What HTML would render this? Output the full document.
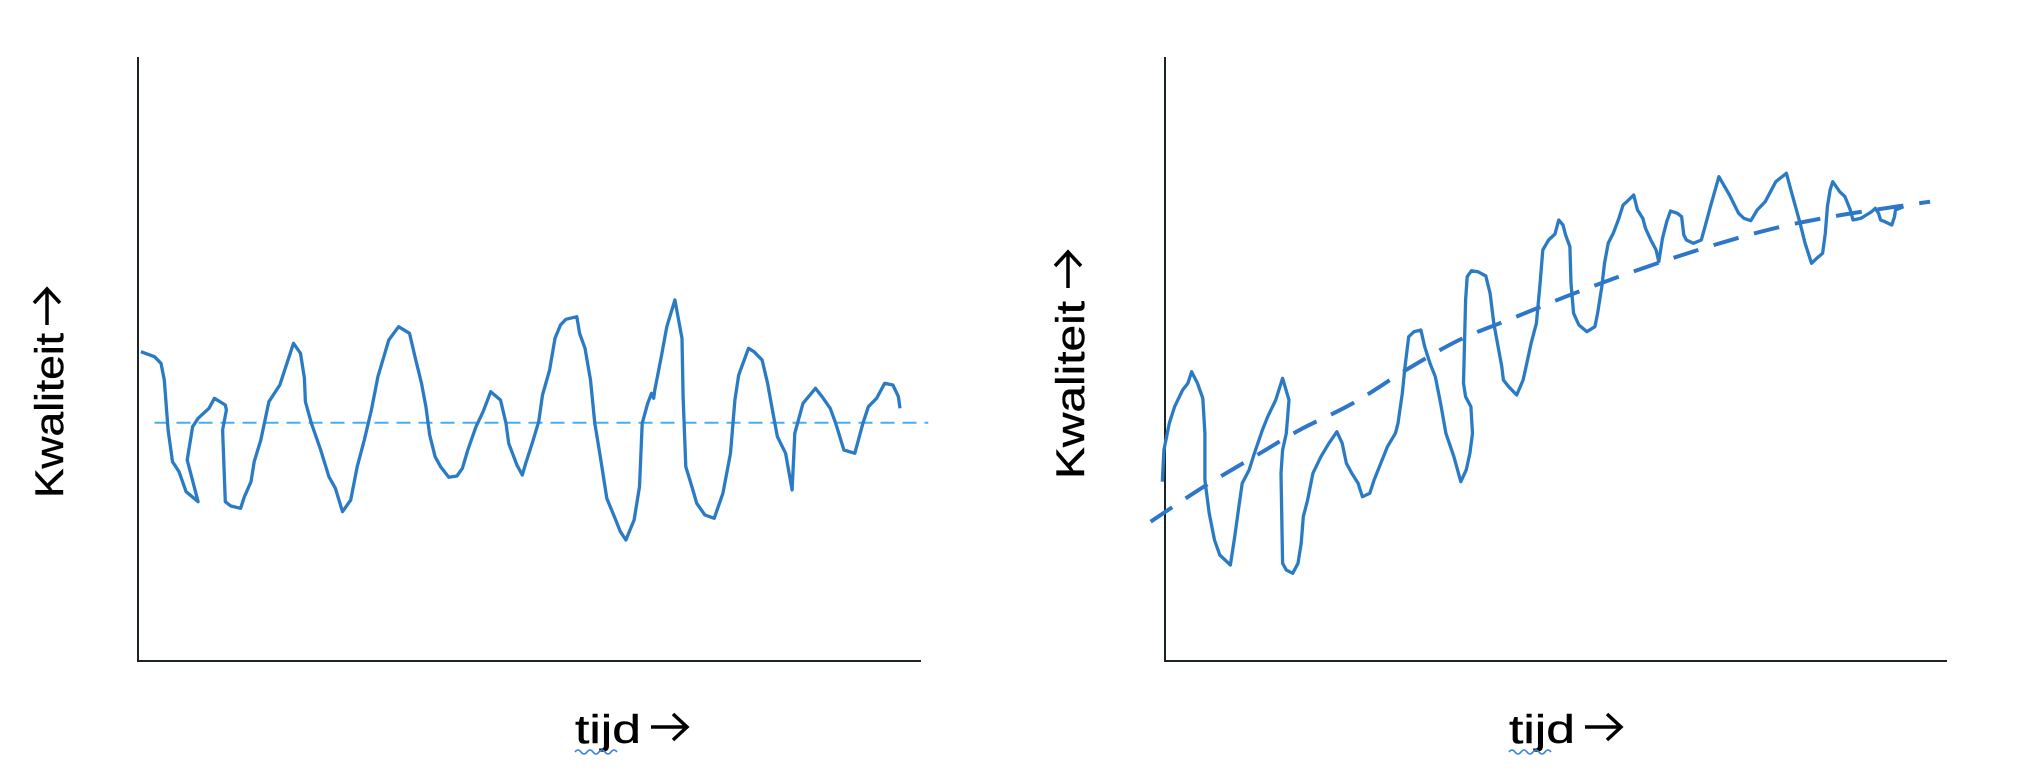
<!DOCTYPE html>
<html><head><meta charset="utf-8"><style>
html,body{margin:0;padding:0;background:#fff;}
svg{display:block;}
text{font-family:"Liberation Sans",sans-serif;fill:#000;stroke:#000;stroke-width:0.4;}
</style></head><body>
<svg id="c" width="2031" height="778" viewBox="0 0 2031 778" xmlns="http://www.w3.org/2000/svg">
<g>
<line x1="138" y1="57" x2="138" y2="662" stroke="#1b2424" stroke-width="2"/>
<line x1="137" y1="661" x2="921" y2="661" stroke="#1b2424" stroke-width="2"/>
<text transform="translate(63,498) rotate(-90)" font-size="40" textLength="165" lengthAdjust="spacingAndGlyphs">Kwaliteit</text>
<path d="M47,325 V290 M34,303 L47,289 L60,303" fill="none" stroke="#000" stroke-width="3.5"/>
<text x="575" y="743" font-size="40" textLength="66" lengthAdjust="spacingAndGlyphs">tijd</text>
<path d="M651,727 H686 M673,714 L687,727 L673,740" fill="none" stroke="#000" stroke-width="3.5"/>
<path d="M575,752 q3,-4 6,0 t6,0 t6,0 t6,0 t6,0 t6,0 t6,0" fill="none" stroke="#3b7fe0" stroke-width="1.6"/>
<path id="leftMean" fill="none" stroke="#45adf5" stroke-width="2" stroke-dasharray="14,8"/>
<path id="leftSeries" fill="none" stroke="#2a7bc4" stroke-width="3.3" stroke-linejoin="round"/>
</g>
<g>
<line x1="1165" y1="57" x2="1165" y2="662" stroke="#1b2424" stroke-width="2"/>
<line x1="1164" y1="661" x2="1947" y2="661" stroke="#1b2424" stroke-width="2"/>
<text transform="translate(1084,479) rotate(-90)" font-size="40" textLength="178" lengthAdjust="spacingAndGlyphs">Kwaliteit</text>
<path d="M1068,288 V253 M1055,266 L1068,252 L1081,266" fill="none" stroke="#000" stroke-width="3.5"/>
<text x="1509" y="743" font-size="40" textLength="66" lengthAdjust="spacingAndGlyphs">tijd</text>
<path d="M1585,727 H1620 M1607,714 L1621,727 L1607,740" fill="none" stroke="#000" stroke-width="3.5"/>
<path d="M1509,752 q3,-4 6,0 t6,0 t6,0 t6,0 t6,0 t6,0 t6,0" fill="none" stroke="#3b7fe0" stroke-width="1.6"/>
<path id="rightSeries" fill="none" stroke="#2a7bc4" stroke-width="3.3" stroke-linejoin="round"/>
<path id="rightTrend" fill="none" stroke="#2d76c9" stroke-width="4" stroke-dasharray="26,16"/>
</g>
</svg>
<script>
const leftT=[7.5,10,11.2,11.8,12.5,13.3,14.5,15.8,18,16,17,18,20,21,23,23.2,22.5,23,24,25.8,26.5,27.7,28.3,29.5,31,33,35.5,36.8,37.5,37.7,38.8,40.5,42,43.2,44.5,46,47.2,48.5,49.8,51,53,54.8,56.8,57.8,59,59.8,60.5,61.5,62.5,64,65.5,66.5,67.5,69,70.3,71.7,73.5,74.5,75,76.5,77.5,78.2,79.3,80.5,81.2,82.5,83.5,84.5,85.5,87.5,88,89,90,90.8,91.8,93,94.5,95.5,96.5,98,99,99.5,100.5,101.2,101.6,101.8,103,104,105.5,106.8,107,107.5,108.8,109.5,111,112.7,114.3,115.7,116.5,117.2,119,120,121.5,122.5,123.5,124.3,125.8,127,127.5,129,131.3,132.5,134,135,136.5,138.5,140,141,142.5,144,145.5,146.5,146.8];
const leftQ=[68.5,67,65,60,45,35.5,32.5,26.5,23.5,36,46,48.5,51.5,54.5,52.5,51,45,23.5,22.2,21.5,25,29.5,35.5,42,53.5,58.5,71,68,60.5,53.5,47,39,31,27.5,20.5,24,34,42,51,61,72,76,74,67,59,52,43.5,37,34,30.8,31.2,33.5,39,46,50.5,56.5,54,47,41,34.5,31.5,35.5,41,47.5,55.5,63,72.5,76.5,78.2,79,74,69.5,60,47,37,24.5,18.5,14.5,12,18,28,47,53,56,54.5,57,67,76,84,72.5,55,34,27,23,19.5,18.5,26,38,54,61.5,69.5,68.5,66,59,50,43,38,27,44,53,57.5,55,51.5,47,39,38,47,52,54.5,59,58.5,55,51.5];
const leftMeanT=[10,152];
const leftMeanQ=[47.2,47.2];
const rightT=[4.2,4.5,5.5,6.5,8,9,9.7,10.8,11.8,12.2,12.2,13,14,15,17,17.8,18.5,19.2,20.5,21.5,23,24,25.5,26.8,28,27.5,26.8,26.5,26.8,27.5,28.7,29.7,30.3,30.7,31.5,32.5,34,35.5,37,38,38.8,39.8,41,41.8,43.2,44,45,46.5,48,48.5,49.3,49.8,50.5,51.5,52.8,53.5,54.5,55.5,56.5,57.5,59,60.3,61.3,62,62.5,62.2,61.2,60.8,61.2,61.5,62.3,63.5,65,65.8,66.5,67.3,68,68.3,69.3,70.8,72,72.7,73.5,74.5,75.2,75.7,76.8,78,78.7,79.5,80,80.8,81,81.5,82.5,84,85.5,86,86.8,87.3,88,89,90,90.8,91.5,92.8,93.5,94.5,95,96,97,97.5,98.2,99,99.7,101,101.8,102.2,102.7,104,105.5,106.2,107.2,108.8,110.8,112.5,113.5,114.8,116,117.5,119.5,121.5,122.5,124,125,126.2,127.2,128.3,128.8,129.2,129.7,130.2,131.5,132.5,133.5,134,135.5,136.5,137.5,138.2,138.8,139.2,140,141.3,141.8,142,143.5];
const rightQ=[35.5,45,53,58,63,65,68.5,65,60.5,50,36,26,18,13.5,10.5,19,27,35,39,44,51,55,60,66.5,60,50,45,38,11,9,8,11,17,25,30,38,43,47,50.5,47,41,38,35,31,32,36,40,46,50,53,62,70,79,80.5,81,76,71,67,59,50,43,35.5,39,44,50,58,61,65,90,97,98.8,98.5,97.2,92,83,76,70,66,64,61.5,66,71,77,83,95,105,108,109.8,114,112.5,109.5,106,95,86,82.5,80.5,82,86,94,101,107,110.2,114.5,118.5,119.5,121.5,117,114.5,111.5,108,105,101.5,108.5,113.5,116.7,116,115,109.5,108,107,108,112,118,127,121.5,116,114.5,113.8,117,119.5,125.5,128,122,113.5,107,101,102.5,104,110,118,123,125.5,122.5,121,117,114,114.5,115.5,116.5,117.5,116,114,113.5,112.5,115,117,118];
const trendT=[2,12,22,30,40,50,60,70,80,90,100,110,120,130,140,148.5];
const trendQ=[23.5,34,43.5,51,59,69,78,84.5,91,97,102.5,107.5,111.8,115,117.5,119.5];

function lx(t){return 100+t*10/1.835;}
function ly(q){return 580-q*10/3;}
function rx(t){return 1140+t*10/1.8795;}
function ry(q){return 600-q*10/3;}
function pathOf(T,Q,fx,fy,smooth){
  const p=T.map((t,i)=>[fx(t),fy(Q[i])]);
  if(!smooth) return p.map((a,i)=>(i?'L':'M')+a[0].toFixed(1)+','+a[1].toFixed(1)).join(' ');
  let d='M'+p[0][0]+','+p[0][1];
  for(let i=0;i<p.length-1;i++){
    const p0=p[i-1]||p[i],p1=p[i],p2=p[i+1],p3=p[i+2]||p2;
    const c1=[p1[0]+(p2[0]-p0[0])/6,p1[1]+(p2[1]-p0[1])/6];
    const c2=[p2[0]-(p3[0]-p1[0])/6,p2[1]-(p3[1]-p1[1])/6];
    d+=' C'+c1[0].toFixed(1)+','+c1[1].toFixed(1)+' '+c2[0].toFixed(1)+','+c2[1].toFixed(1)+' '+p2[0].toFixed(1)+','+p2[1].toFixed(1);
  }
  return d;
}
document.getElementById('leftSeries').setAttribute('d',pathOf(leftT,leftQ,lx,ly,false));
document.getElementById('leftMean').setAttribute('d',pathOf(leftMeanT,leftMeanQ,lx,ly,false));
document.getElementById('rightSeries').setAttribute('d',pathOf(rightT,rightQ,rx,ry,false));
document.getElementById('rightTrend').setAttribute('d',pathOf(trendT,trendQ,rx,ry,true));
</script>
</body></html>
